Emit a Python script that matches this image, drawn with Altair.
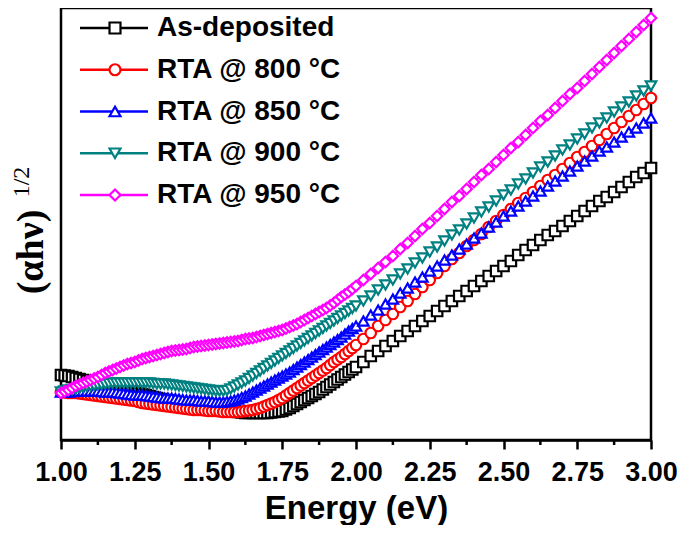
import altair as alt
import pandas as pd

# ---------------- data ----------------
series_names = ["As-deposited", "RTA @ 800 °C", "RTA @ 850 °C", "RTA @ 900 °C", "RTA @ 950 °C"]
series_colors = ["#000000", "#ff0000", "#0000ff", "#008080", "#ff00ff"]
series_shapes = ["square", "circle", "triangle-up", "triangle-down", "diamond"]

# energies: finer sampling below 2 eV (the measured points crowd together there)
energy = ([round(1.0 + 0.0125 * i, 4) for i in range(81)]
          + [round(2.025 + 0.025 * i, 3) for i in range(40)])

as_deposited = [65, 64.5, 64, 63, 62, 61, 60, 59, 58, 57, 56, 55, 54, 53, 52, 51.5, 51, 50, 49, 48,
                47, 46.5, 46, 45, 44, 43, 42, 41, 40, 39.5, 39, 38, 37, 36.5, 36, 35.5, 35, 34, 33, 32.5,
                32, 31.5, 31, 30.5, 30, 29.5, 29, 28.5, 28, 27.5, 27, 27, 27, 27, 27, 27, 27, 27.5, 28, 28.5,
                29, 30.5, 32, 34, 36, 38, 40, 42, 44, 46, 48, 50.5, 53, 55.5, 58, 60.5, 63, 65.5, 68, 70.5,
                73,
                78, 84, 89, 94, 99, 104, 109, 114, 119,
                124, 129, 134, 139, 144, 149, 154, 159, 164, 169,
                174, 179, 185, 190, 195, 200, 205, 209, 214, 219,
                224, 229, 234, 239, 243, 248, 253, 258, 263, 267,
                272]
rta_800 = [48, 47.5, 47, 47, 47, 46.5, 46, 45.5, 45, 44.5, 44, 43.5, 43, 42.5, 42, 41.5, 41, 40.5, 40, 39.5,
           39, 38, 37, 36.5, 36, 35.5, 35, 34.5, 34, 33.5, 33, 32.5, 32, 31.5, 31, 30.5, 30, 30, 30, 29.5,
           29, 29, 29, 28.5, 28, 28, 28, 28, 28, 28.5, 29, 29.5, 30, 31, 32, 33.5, 35, 36.5, 38, 40,
           42, 44.5, 47, 49.5, 52, 54.5, 57, 59.5, 62, 64.5, 67, 69.5, 72, 75, 78, 80.5, 83, 86, 89, 92,
           95,
           101, 107, 114, 120, 126, 133, 139, 146, 153,
           160, 167, 174, 181, 187, 194, 200, 206, 213, 219,
           225, 231, 237, 242, 248, 254, 260, 265, 271, 277,
           283, 288, 294, 300, 306, 312, 318, 324, 330, 336,
           342]
rta_850 = [48, 48, 48, 48.5, 49, 49, 49, 49, 49, 49, 49, 48.5, 48, 48, 48, 47.5, 47, 46.5, 46, 45.5,
           45, 45, 45, 44.5, 44, 43.5, 43, 42.5, 42, 42, 42, 41.5, 41, 40.5, 40, 40, 40, 39.5, 39, 39,
           39, 38.5, 38, 38, 38, 38.5, 39, 40, 41, 42.5, 44, 46, 48, 50, 52, 54, 56, 58, 60, 62,
           64, 66, 68, 70.5, 73, 75.5, 78, 80.5, 83, 85.5, 88, 90.5, 93, 95.5, 98, 100.5, 103, 106, 109, 111.5,
           114,
           119, 125, 130, 136, 141, 147, 152, 158, 163,
           169, 174, 180, 185, 191, 196, 202, 207, 213, 218,
           224, 229, 234, 239, 244, 249, 254, 259, 264, 269,
           274, 279, 284, 289, 293, 298, 303, 308, 312, 317,
           322]
rta_900 = [48, 49, 50, 50.5, 51, 52, 53, 53.5, 54, 54.5, 55, 55.5, 56, 56.5, 57, 57, 57, 57, 57, 57,
           57, 57, 57, 57, 57, 56.5, 56, 56, 56, 55.5, 55, 54.5, 54, 53.5, 53, 52.5, 52, 51.5, 51, 50.5,
           50, 49.5, 49, 49, 49, 49.5, 51, 53, 55, 57, 59, 61.5, 64, 66.5, 69, 71.5, 74, 76.5, 79, 81.5,
           84, 86.5, 89, 91.5, 94, 96.5, 99, 101.5, 104, 106.5, 109, 111.5, 114, 116.5, 119, 121.5, 124, 126.5, 129, 131.5,
           134,
           139, 144, 150, 155, 160, 166, 171, 177, 182,
           188, 193, 199, 205, 210, 216, 222, 228, 233, 239,
           245, 250, 256, 261, 267, 273, 278, 284, 290, 295,
           301, 306, 312, 317, 322, 328, 333, 338, 344, 349,
           354]
rta_950 = [47, 48.5, 50, 52, 54, 55.5, 57, 58.5, 60, 61.5, 63, 65, 67, 68.5, 70, 71.5, 73, 74.5, 76, 77,
           78, 79.5, 81, 82, 83, 84, 85, 86, 87, 88, 89, 89.5, 90, 90.5, 91, 92, 93, 93.5, 94, 94.5,
           95, 95.5, 96, 96.5, 97, 97.5, 98, 98.5, 99, 100, 101, 101.5, 102, 103, 104, 105, 106, 107, 108, 109,
           110, 111.5, 113, 114.5, 116, 118, 120, 122, 124, 126, 128, 130, 132, 134.5, 137, 140, 143, 145.5, 148, 151,
           154,
           160, 166, 172, 178, 184, 191, 197, 204, 211,
           217, 224, 231, 238, 244, 251, 258, 265, 271, 278,
           285, 292, 298, 305, 312, 319, 325, 332, 339, 346,
           352, 359, 366, 373, 380, 387, 394, 401, 408, 415,
           422]

major_ticks = [1.0, 1.25, 1.5, 1.75, 2.0, 2.25, 2.5, 2.75, 3.0]
minor_ticks = [1.125, 1.375, 1.625, 1.875, 2.125, 2.375, 2.625, 2.875]

x_title = "Energy (eV)"
y_title_main = "(αhν)"
y_title_sup = "1/2"

# ---------------- tables ----------------
all_values = [as_deposited, rta_800, rta_850, rta_900, rta_950]
rows = []
for k, (name, vals) in enumerate(zip(series_names, all_values)):
    for i, (e, v) in enumerate(zip(energy, vals)):
        rows.append({"series": name, "k": k, "i": i, "E": e, "v": v})
df = pd.DataFrame(rows)
legend_df = pd.DataFrame({"series": series_names})
minor_df = pd.DataFrame({"m": minor_ticks})

W, H = 590, 432
FONT = "Liberation Sans"

xscale = alt.Scale(domain=[1.0, 3.0], nice=False, zero=False)
yscale = alt.Scale(domain=[0, 432], nice=False, zero=False)
stroke_scale = alt.Scale(domain=series_names, range=series_colors)
shape_scale = alt.Scale(domain=series_names, range=series_shapes)

x_enc = alt.X("E:Q", scale=xscale,
              axis=alt.Axis(values=major_ticks, format=".2f", tickSize=9, tickWidth=2.5,
                            domainWidth=2.5, domainColor="black", tickColor="black",
                            labelFont=FONT, labelFontSize=27, labelFontWeight="bold",
                            labelColor="black", labelPadding=10, labelFlush=False,
                            labelOverlap=False, grid=False,
                            title=x_title, titleFont=FONT, titleFontSize=33,
                            titleFontWeight="bold", titleColor="black",
                            titleBaseline="alphabetic", titleY=78))
y_enc = alt.Y("v:Q", scale=yscale, axis=None)

lines = alt.Chart(df).mark_line(strokeWidth=2).encode(
    x=x_enc, y=y_enc,
    stroke=alt.Stroke("series:N", scale=stroke_scale, legend=None),
    detail="series:N", order="i:Q")

points = alt.Chart(df).mark_point(filled=True, fill="white", fillOpacity=1, opacity=1,
                                  strokeWidth=2.2, size=110).encode(
    x=alt.X("E:Q", scale=xscale), y=y_enc,
    stroke=alt.Stroke("series:N", scale=stroke_scale, legend=None),
    shape=alt.Shape("series:N", scale=shape_scale, legend=None),
    order=alt.Order("k:Q"))

minor = alt.Chart(minor_df).mark_rule(color="black", strokeWidth=2.5).encode(
    x=alt.X("m:Q", scale=xscale), y=alt.value(H), y2=alt.value(H + 5))

leg_y = alt.Y("series:N", scale=alt.Scale(type="point", domain=series_names,
                                          range=[20, 187], padding=0), axis=None)
leg_line = alt.Chart(legend_df).mark_rule(strokeWidth=2.5).encode(
    x=alt.value(19), x2=alt.value(87), y=leg_y,
    stroke=alt.Stroke("series:N", scale=stroke_scale, legend=None))
leg_pt = alt.Chart(legend_df).mark_point(filled=True, fill="white", fillOpacity=1, opacity=1,
                                         strokeWidth=2.2, size=120).encode(
    x=alt.value(54), y=leg_y,
    stroke=alt.Stroke("series:N", scale=stroke_scale, legend=None),
    shape=alt.Shape("series:N", scale=shape_scale, legend=None))
leg_txt = alt.Chart(legend_df).mark_text(align="left", baseline="middle", font=FONT,
                                         fontSize=28, fontWeight="bold", color="black").encode(
    x=alt.value(96), y=leg_y, text="series:N")
legend = alt.layer(leg_line, leg_pt, leg_txt)

one = pd.DataFrame({"a": [0]})
ytitle = alt.Chart(one).mark_text(text=y_title_main, angle=270, align="center", baseline="middle",
                                  font="Liberation Serif", fontSize=38, fontWeight="bold",
                                  color="black").encode(x=alt.value(-29), y=alt.value(244))
ysup = alt.Chart(one).mark_text(text=y_title_sup, angle=270, align="center", baseline="middle",
                                font="Liberation Serif", fontSize=24, color="black").encode(
    x=alt.value(-39), y=alt.value(174))

chart = alt.layer(lines, points, minor, legend, ytitle, ysup).resolve_scale(
    y="independent").properties(
    width=W, height=H, autosize="none",
    padding={"left": 53, "top": 0, "right": 26, "bottom": 85},
).configure_view(stroke="black", strokeWidth=2.5)

chart.save("out.html", embed_options={"renderer": "svg", "actions": False})
